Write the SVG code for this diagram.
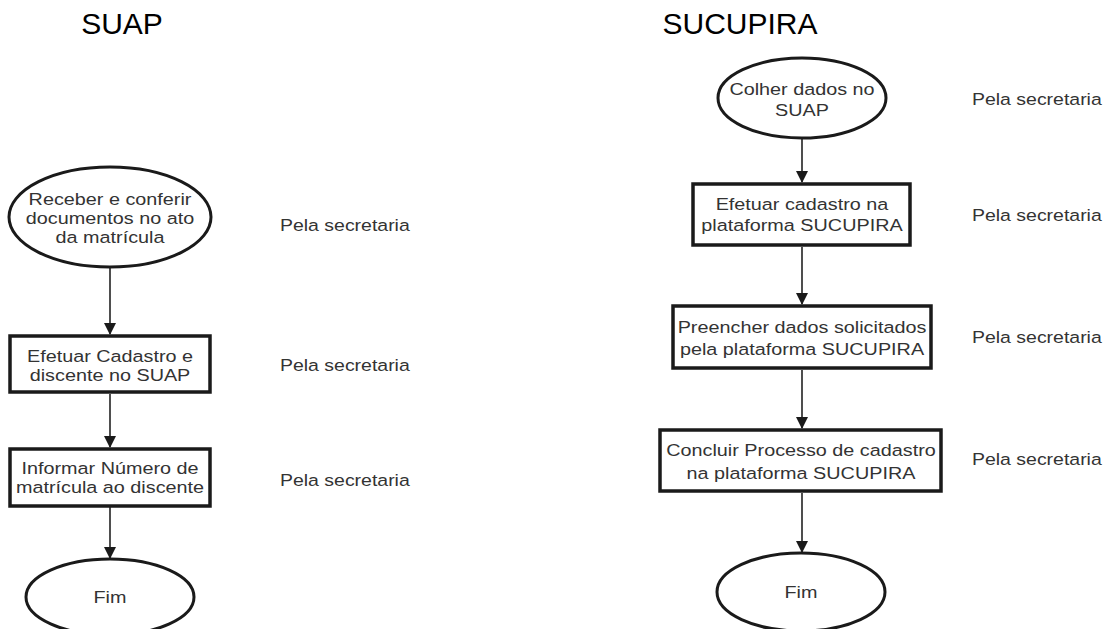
<svg xmlns="http://www.w3.org/2000/svg" width="1111" height="629" viewBox="0 0 1111 629">
<style>
.title{font-family:"Liberation Sans",Arial,sans-serif;font-size:30px;fill:#000;text-anchor:middle}
.t{font-family:"Liberation Sans",Arial,sans-serif;font-size:16.5px;fill:#333;text-anchor:middle}
.note{font-family:"Liberation Sans",Arial,sans-serif;font-size:16.5px;fill:#333}
.shape{fill:#fff;stroke:#1a1a1a;stroke-width:3}
.box{fill:#fff;stroke:#1a1a1a;stroke-width:3.5}
.conn{stroke:#222;stroke-width:1.6;fill:none;marker-end:url(#arr)}
</style>
<defs>
<marker id="arr" markerUnits="userSpaceOnUse" markerWidth="12" markerHeight="12" viewBox="0 0 12 12" refX="11" refY="6" orient="auto">
<path d="M0,0 L12,6 L0,12 Z" fill="#1a1a1a"/>
</marker>
</defs>
<rect width="1111" height="629" fill="#fff"/>
<text class="title" x="122" y="34">SUAP</text>
<text class="title" x="740" y="34">SUCUPIRA</text>

<g id="connectors">
<line class="conn" x1="110" y1="268" x2="110" y2="334"/>
<line class="conn" x1="110" y1="394" x2="110" y2="447"/>
<line class="conn" x1="110" y1="507" x2="110" y2="558"/>
<line class="conn" x1="802" y1="138" x2="802" y2="182"/>
<line class="conn" x1="802" y1="247" x2="802" y2="304"/>
<line class="conn" x1="802" y1="370" x2="802" y2="428"/>
<line class="conn" x1="802" y1="493" x2="802" y2="552"/>
</g>

<g id="suap-receber">
<ellipse class="shape" cx="110" cy="217" rx="101" ry="50"/>
<g transform="translate(110,0) scale(1.2,1)">
<text class="t" x="0" y="205">Receber e conferir</text>
<text class="t" x="0" y="224">documentos no ato</text>
<text class="t" x="0" y="243">da matrícula</text>
</g>
</g>
<g id="suap-cadastro">
<rect class="box" x="10" y="336" width="200" height="56"/>
<g transform="translate(110,0) scale(1.2,1)">
<text class="t" x="0" y="362">Efetuar Cadastro e</text>
<text class="t" x="0" y="381">discente no SUAP</text>
</g>
</g>
<g id="suap-informar">
<rect class="box" x="10" y="449" width="200" height="57"/>
<g transform="translate(110,0) scale(1.2,1)">
<text class="t" x="0" y="474">Informar Número de</text>
<text class="t" x="0" y="493">matrícula ao discente</text>
</g>
</g>
<g id="suap-fim">
<ellipse class="shape" cx="110" cy="597" rx="84" ry="38"/>
<g transform="translate(110,0) scale(1.2,1)">
<text class="t" x="0" y="603">Fim</text>
</g>
</g>
<g id="suap-notes" transform="translate(280,0) scale(1.18,1)">
<text class="note" x="0" y="231">Pela secretaria</text>
<text class="note" x="0" y="371">Pela secretaria</text>
<text class="note" x="0" y="486">Pela secretaria</text>
</g>

<g id="sucupira-colher">
<ellipse class="shape" cx="802" cy="98" rx="84" ry="40"/>
<g transform="translate(802,0) scale(1.2,1)">
<text class="t" x="0" y="95">Colher dados no</text>
<text class="t" x="0" y="116">SUAP</text>
</g>
</g>
<g id="sucupira-cadastro">
<rect class="box" x="693" y="184" width="217" height="61"/>
<g transform="translate(802,0) scale(1.2,1)">
<text class="t" x="0" y="210">Efetuar cadastro na</text>
<text class="t" x="0" y="231">plataforma SUCUPIRA</text>
</g>
</g>
<g id="sucupira-preencher">
<rect class="box" x="673" y="306" width="258" height="62"/>
<g transform="translate(802,0) scale(1.2,1)">
<text class="t" x="0" y="333">Preencher dados solicitados</text>
<text class="t" x="0" y="355">pela plataforma SUCUPIRA</text>
</g>
</g>
<g id="sucupira-concluir">
<rect class="box" x="660" y="430" width="281" height="61"/>
<g transform="translate(801,0) scale(1.2,1)">
<text class="t" x="0" y="456">Concluir Processo de cadastro</text>
<text class="t" x="0" y="479">na plataforma SUCUPIRA</text>
</g>
</g>
<g id="sucupira-fim">
<ellipse class="shape" cx="801" cy="592" rx="84" ry="39"/>
<g transform="translate(801,0) scale(1.2,1)">
<text class="t" x="0" y="598">Fim</text>
</g>
</g>
<g id="sucupira-notes" transform="translate(972,0) scale(1.18,1)">
<text class="note" x="0" y="105">Pela secretaria</text>
<text class="note" x="0" y="221">Pela secretaria</text>
<text class="note" x="0" y="343">Pela secretaria</text>
<text class="note" x="0" y="465">Pela secretaria</text>
</g>
</svg>
